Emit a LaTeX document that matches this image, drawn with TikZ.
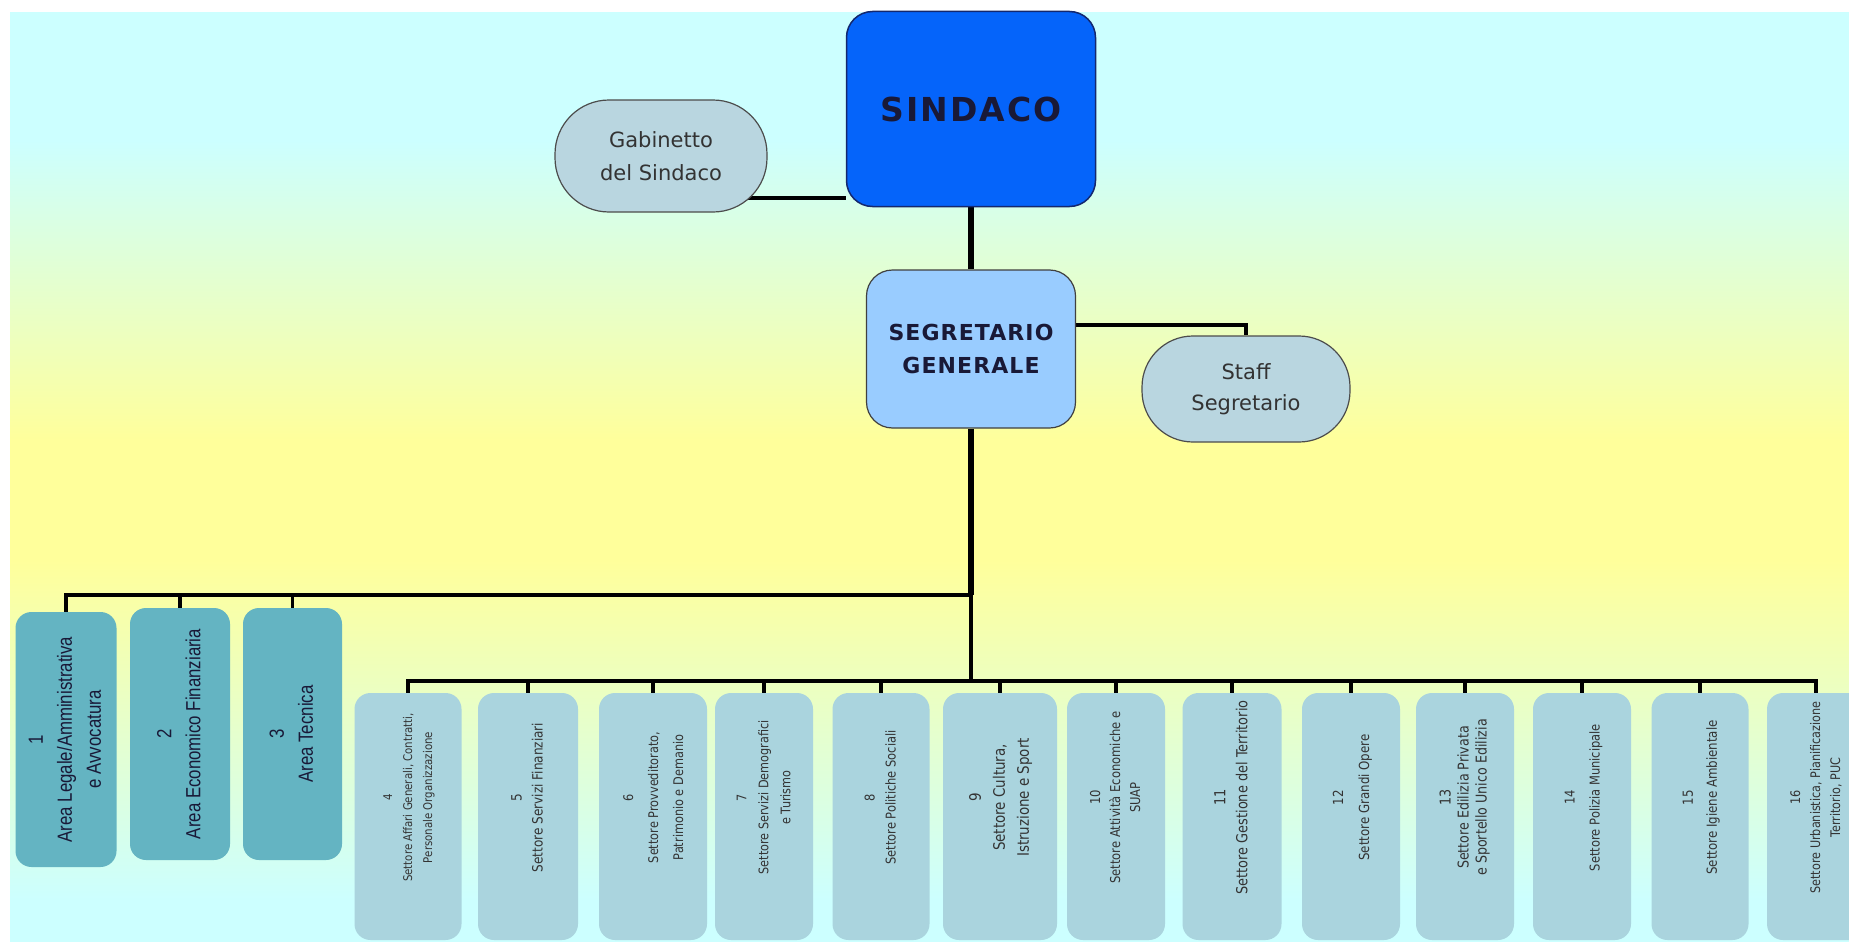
\documentclass[tikz,border=0pt]{standalone}
\usepackage{fontspec}
\usepackage{graphicx}
\setmainfont{DejaVu Sans}
\newfontfamily\areafont[FakeStretch=0.82]{Liberation Sans}
\newfontfamily\boxfont[FakeStretch=0.85]{DejaVu Sans}
\usetikzlibrary{positioning}
\pgfdeclarelayer{background}
\pgfsetlayers{background,main}

\definecolor{cyanbg}{RGB}{204,255,255}
\definecolor{yellowbg}{RGB}{255,255,155}
\definecolor{sindacoblue}{RGB}{5,100,250}
\definecolor{sindacoedge}{RGB}{20,40,110}
\definecolor{segblue}{RGB}{153,204,255}
\definecolor{ovalfill}{RGB}{185,214,224}
\definecolor{areafill}{RGB}{100,180,194}
\definecolor{settorefill}{RGB}{170,212,222}
\definecolor{inktext}{RGB}{25,25,55}

% testo verticale nei riquadri
\newcommand{\vlabel}[1]{\rotatebox{90}{\begin{tabular}{@{}c@{}}#1\end{tabular}}}
% come sopra, ma un po' spostato verso l'alto
\newcommand{\slabel}[1]{\rotatebox{90}{\hspace*{38pt}\begin{tabular}{@{}c@{}}#1\end{tabular}}}
\newcommand{\setfont}[2]{\fontsize{#1}{#2}\selectfont}
\newcommand{\sfont}[2]{\boxfont\fontsize{#1}{#2}\selectfont}

\tikzset{
  conn/.style={line width=3.5pt},
  trunk/.style={line width=6pt},
  topbox/.style={rounded corners=26pt, inner sep=0pt, align=center, text=inktext},
  stadium/.style={draw=black!70, line width=1.2pt, fill=ovalfill, rounded corners=54pt,
    minimum width=212pt, minimum height=112pt, inner sep=0pt, align=center,
    text=black!80, font=\setfont{21}{33}},
  areabox/.style={fill=areafill, rounded corners=16pt, minimum width=100pt,
    minimum height=252pt, inner sep=0pt, text=inktext,
    font=\areafont\setfont{20.5}{29}},
  settorebox/.style={fill=settorefill, rounded corners=16pt, minimum width=98pt,
    minimum height=247pt, inner sep=0pt, text=black!80,
    font=\sfont{14.2}{21}},
}

\begin{document}
\begin{tikzpicture}[x=1pt,y=-1pt]
\useasboundingbox (0,0) rectangle (1849,942);
\clip (0,0) rectangle (1849,942);

% vertice
\node[topbox, draw=sindacoedge, line width=1.5pt, fill=sindacoblue, minimum width=249pt,
  minimum height=195pt, font=\bfseries\setfont{33}{38}\addfontfeature{LetterSpace=6}] (sindaco) at (971,109) {SINDACO};
\node[stadium] (gab) at (661,156) {Gabinetto\\del Sindaco};
\node[topbox, draw=black!75, line width=1.2pt, fill=segblue, minimum width=209pt,
  minimum height=158pt, font=\bfseries\setfont{22}{33}\addfontfeature{LetterSpace=5}] (seg) at (971,349) {SEGRETARIO\\GENERALE};
\node[stadium, minimum width=208pt, minimum height=106pt, rounded corners=51pt, font=\setfont{21}{31}] (staff) at (1246,389) {Staff\\Segretario};

\coordinate (busA) at (971,595);
\coordinate (busB) at (971,681);

% aree
\node[areabox, minimum width=101pt, minimum height=255pt] (area1) at (66,739.5) {\vlabel{1\\Area Legale/Amministrativa\\e Avvocatura}};
\node[areabox] (area2) at (180,734) {\vlabel{2\\Area Economico Finanziaria}};
\node[areabox, minimum width=99pt] (area3) at (292.5,734) {\vlabel{3\\Area Tecnica}};

% settori
\node[settorebox, minimum width=107pt, font=\sfont{12}{20}] (set4) at (408,816.5) {\slabel{4\\Settore Affari Generali, Contratti,\\Personale Organizzazione}};
\node[settorebox, minimum width=100pt] (set5) at (528,816.5) {\slabel{5\\Settore Servizi Finanziari}};
\node[settorebox, minimum width=108pt, font=\sfont{13.3}{25}] (set6) at (653,816.5) {\slabel{6\\Settore Provveditorato,\\Patrimonio e Demanio}};
\node[settorebox, font=\sfont{13.2}{22}] (set7) at (764,816.5) {\slabel{7\\Settore Servizi Demografici\\e Turismo}};
\node[settorebox, minimum width=97pt, font=\sfont{13.5}{21}] (set8) at (881,816.5) {\slabel{8\\Settore Politiche Sociali}};
\node[settorebox, minimum width=114pt, font=\sfont{15.8}{24}] (set9) at (1000,816.5) {\slabel{9\\Settore Cultura,\\Istruzione e Sport}};
\node[settorebox, font=\sfont{13.6}{20}] (set10) at (1116,816.5) {\slabel{10\\Settore Attività Economiche e\\SUAP}};
\node[settorebox, minimum width=99pt, font=\sfont{15.2}{22}] (set11) at (1232,816.5) {\slabel{11\\Settore Gestione del Territorio}};
\node[settorebox, font=\sfont{13.9}{26}] (set12) at (1351,816.5) {\slabel{12\\Settore Grandi Opere}};
\node[settorebox, font=\sfont{14.9}{18}] (set13) at (1465,816.5) {\slabel{13\\Settore Edilizia Privata\\e Sportello Unico Edilizia}};
\node[settorebox, font=\sfont{13.5}{25}] (set14) at (1582,816.5) {\slabel{14\\Settore Polizia Municipale}};
\node[settorebox, minimum width=97pt, font=\sfont{13.9}{24}] (set15) at (1700,816.5) {\slabel{15\\Settore Igiene Ambientale}};
\node[settorebox, font=\sfont{13.2}{20}] (set16) at (1816,816.5) {\slabel{16\\Settore Urbanistica, Pianificazione\\Territorio, PUC}};

\begin{pgfonlayer}{background}
% sfondo sfumato
\fill[white] (0,0) rectangle (1849,942);
\fill[cyanbg] (10,12) rectangle (1849,141);
\shade[top color=cyanbg, bottom color=yellowbg] (10,140) rectangle (1849,441);
\fill[yellowbg] (10,440) rectangle (1849,561);
\shade[top color=yellowbg, bottom color=cyanbg] (10,560) rectangle (1849,901);
\fill[cyanbg] (10,900) rectangle (1849,942);

% collegamenti
\draw[conn] ([yshift=9.5pt]sindaco.south west) -- ([yshift=9.5pt]sindaco.south west -| gab.center);
\draw[trunk] (sindaco.south) -- (seg.north);
\draw[conn] ([yshift=24pt]seg.east) -| (staff.north);
\draw[trunk] (seg.south) -- (busA);
\draw[conn] (busA) -- (busB);
\draw[conn] (area1.north) |- (busA) (area2.north) |- (busA) (area3.north) |- (busA);
\draw[conn] (set4.north) |- (busB) (set5.north) |- (busB) (set6.north) |- (busB) (set7.north) |- (busB)
  (set8.north) |- (busB) (set9.north) |- (busB) (set10.north) |- (busB) (set11.north) |- (busB)
  (set12.north) |- (busB) (set13.north) |- (busB) (set14.north) |- (busB) (set15.north) |- (busB)
  (set16.north) |- (busB);
\end{pgfonlayer}
\end{tikzpicture}
\end{document}
